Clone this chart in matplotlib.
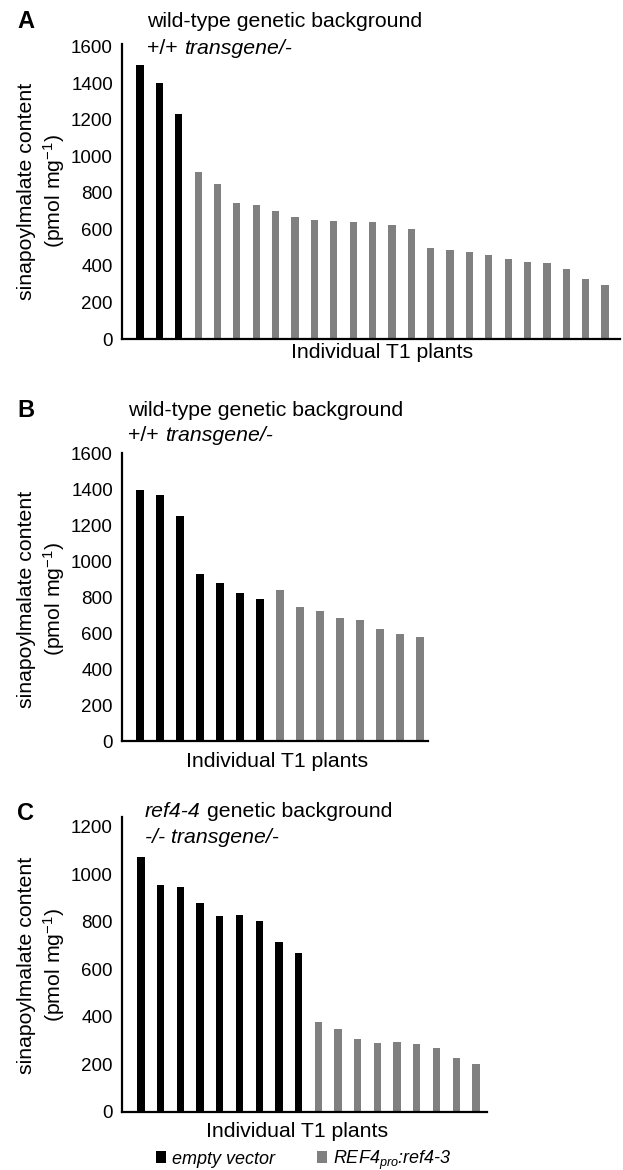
# CODE TO PLOT SINAPOYLMALATE CONTENT OF INDIVIDUAL T1 PLANTS (3 PANELS)

import matplotlib
matplotlib.use('Agg')
import matplotlib.pyplot as plt
from matplotlib.patches import Patch
import numpy as np

# --- Data (pmol mg-1) ---
# Panel A: wild-type background, +/+ transgene/-
a_empty = [1500, 1400, 1230]
a_ref4 = [915, 849, 745, 732, 703, 667, 650, 645, 643, 639, 625, 601,
          500, 489, 477, 462, 438, 424, 416, 384, 331, 294]

# Panel B: wild-type background, +/+ transgene/-
b_empty = [1393, 1366, 1249, 926, 876, 820, 790]
b_ref4 = [839, 744, 725, 686, 673, 623, 596, 577]

# Panel C: ref4-4 background, -/- transgene/-
c_empty = [1071, 953, 945, 880, 825, 829, 804, 713, 669]
c_ref4 = [380, 349, 307, 291, 295, 285, 268, 226, 201]

a_ticks = [0, 200, 400, 600, 800, 1000, 1200, 1400, 1600]
b_ticks = [0, 200, 400, 600, 800, 1000, 1200, 1400, 1600]
c_ticks = [0, 200, 400, 600, 800, 1000, 1200]

label_empty = 'empty vector'
label_ref4 = r'REF4$_{\mathit{pro}}$:ref4-3'
xlabel = 'Individual T1 plants'
ylabel = 'sinapoylmalate content\n(pmol mg$^{-1}$)'

# --- Plotting aesthetics ---
W, H = 623, 1170
color_empty = 'black'
color_ref4 = '#808080'
bar_width = 0.37
tick_size = 13.5
text_size = 15.3
letter_size = 17
spine_width = 1.6

plt.rcParams['font.family'] = ['Liberation Sans', 'DejaVu Sans']
plt.rcParams['mathtext.fontset'] = 'custom'
plt.rcParams['mathtext.rm'] = 'Liberation Sans'
plt.rcParams['mathtext.it'] = 'Liberation Sans:italic'


def fx(px):
    return px / W


def fy(py):
    return 1 - py / H


def add_panel(fig, left, right, top, bottom, empty, ref4, ticks, ymax, xlim):
    """Axes placed by pixel box, bars for both groups."""
    ax = fig.add_axes([fx(left), fy(bottom), (right - left) / W, (bottom - top) / H])
    n1 = len(empty)
    x1 = np.arange(n1)
    x2 = np.arange(n1, n1 + len(ref4))
    ax.bar(x1, empty, bar_width, color=color_empty, zorder=2)
    ax.bar(x2, ref4, bar_width, color=color_ref4, zorder=2)
    ax.set_ylim(0, ymax)
    ax.set_xlim(*xlim)
    ax.set_yticks(ticks)
    ax.set_yticklabels([str(t) for t in ticks], fontsize=tick_size)
    ax.set_xticks([])
    ax.tick_params(axis='y', length=0, pad=6.5)
    for side in ['top', 'right']:
        ax.spines[side].set_visible(False)
    for side in ['left', 'bottom']:
        ax.spines[side].set_linewidth(spine_width)
    return ax


def rich_line(ax, x_px, y_px, pieces, size):
    """Text pieces with own styles, chained left to right on one baseline."""
    prev = None
    for txt, style, gap in pieces:
        if prev is None:
            prev = ax.annotate(txt, xy=(fx(x_px), fy(y_px)), xycoords='figure fraction',
                               ha='left', va='baseline', fontsize=size, fontstyle=style,
                               annotation_clip=False)
        else:
            prev = ax.annotate(txt, xy=(1, 0), xycoords=prev, xytext=(gap * size, 0),
                               textcoords='offset points', ha='left', va='bottom',
                               fontsize=size, fontstyle=style, annotation_clip=False)


def panel_text(fig, ax, letter, letter_base, title_x, base1, base2, line1, line2,
               xl_x, xl_base, yl_y):
    fig.text(fx(17), fy(letter_base), letter, fontsize=letter_size, fontweight='bold',
             ha='left', va='baseline')
    rich_line(ax, title_x, base1, line1, text_size)
    rich_line(ax, title_x, base2, line2, text_size)
    fig.text(fx(xl_x), fy(xl_base), xlabel, fontsize=text_size, ha='center', va='baseline')
    fig.text(fx(42), fy(yl_y), ylabel, fontsize=text_size, rotation=90,
             ha='center', va='center', multialignment='center', linespacing=1.25)


space = 0.278
fig = plt.figure(figsize=(W / 100, H / 100), dpi=100)

# --- Panel A ---
axA = add_panel(fig, 122, 620, 44, 339, a_empty, a_ref4, a_ticks, 1615, (-0.93, 24.77))
panel_text(fig, axA, 'A', 28, 147, 27, 54,
           [('wild-type genetic background', 'normal', 0)],
           [('+/+', 'normal', 0), ('transgene/-', 'italic', space)],
           382, 358, 191)

# --- Panel B ---
axB = add_panel(fig, 122, 428, 453, 741, b_empty, b_ref4, b_ticks, 1600, (-0.9, 14.4))
panel_text(fig, axB, 'B', 417, 128, 416, 441,
           [('wild-type genetic background', 'normal', 0)],
           [('+/+', 'normal', 0), ('transgene/-', 'italic', space)],
           277, 767, 599)

# --- Panel C ---
axC = add_panel(fig, 122, 487, 817, 1112, c_empty, c_ref4, c_ticks, 1240, (-0.96, 17.56))
panel_text(fig, axC, 'C', 820, 145, 817, 843,
           [('ref4-4', 'italic', 0), ('genetic background', 'normal', space)],
           [('-/- transgene/-', 'italic', 0)],
           297, 1137, 965)

# --- Legend ---
handles = [Patch(facecolor=color_empty, edgecolor='none'),
           Patch(facecolor=color_ref4, edgecolor='none')]
fig.legend(handles, [label_empty, label_ref4], loc='center',
           bbox_to_anchor=(fx(304), fy(1160)), ncol=2, frameon=False,
           handlelength=0.55, handleheight=0.65, handletextpad=0.35,
           columnspacing=2.3, borderaxespad=0, borderpad=0,
           prop={'style': 'italic', 'size': 13})

plt.savefig('out.png', dpi=100)
